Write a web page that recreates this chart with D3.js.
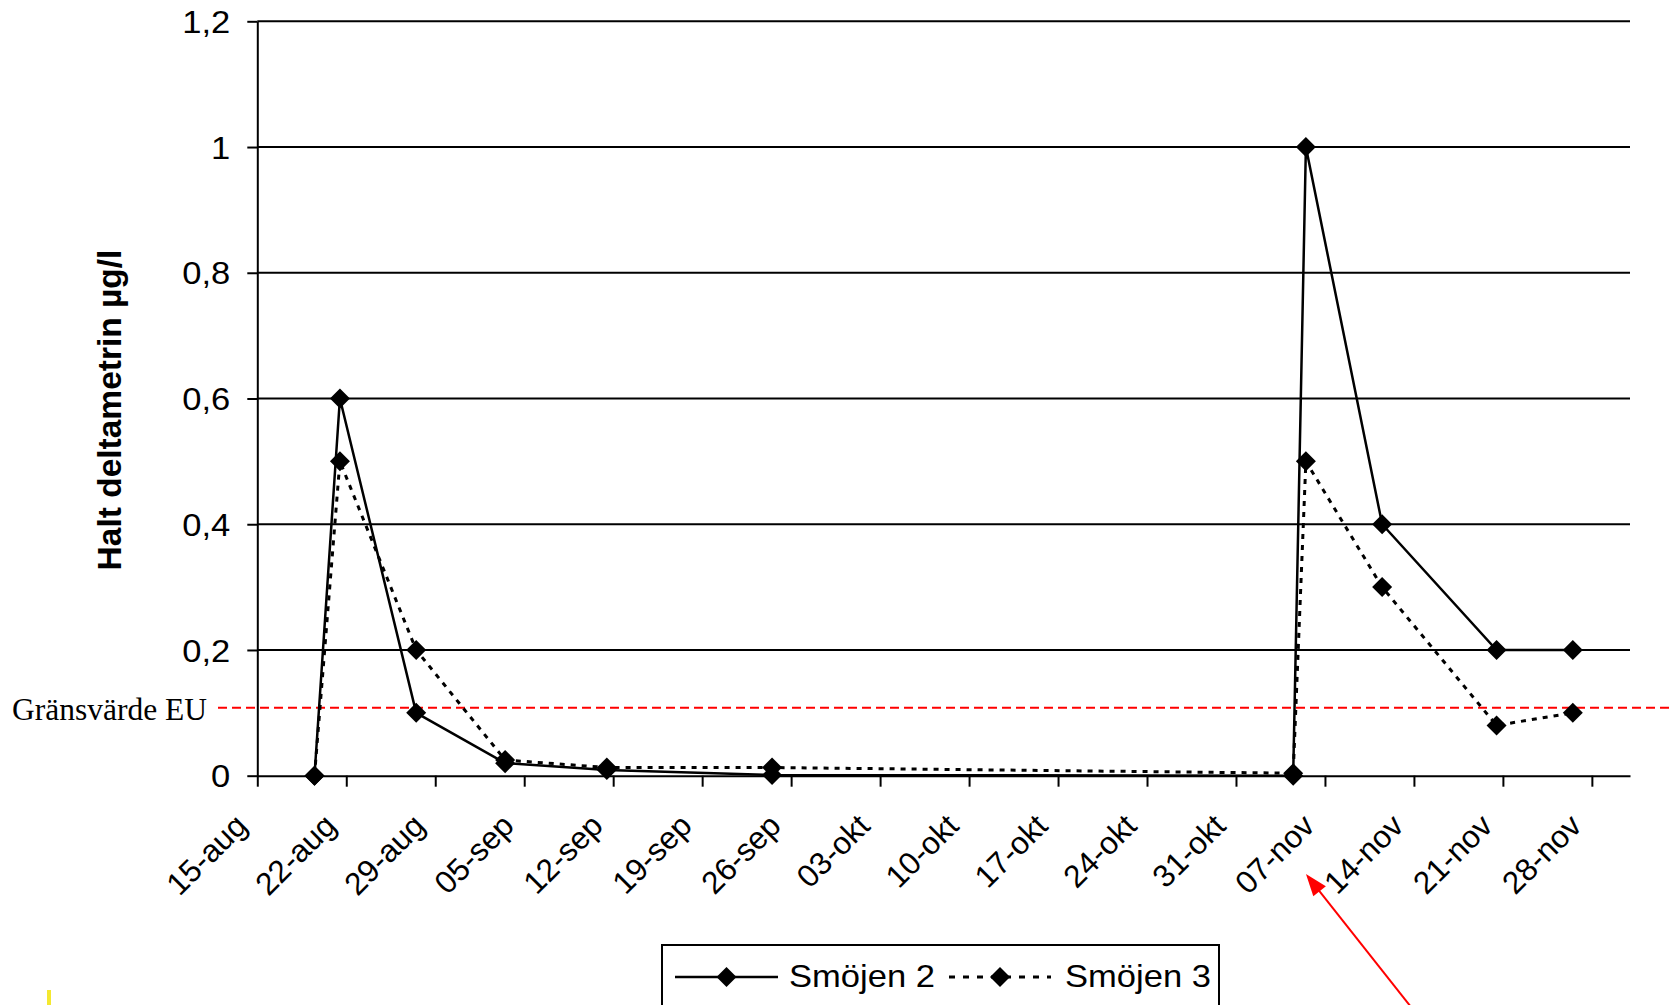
<!DOCTYPE html>
<html><head><meta charset="utf-8">
<script src="https://cdn.jsdelivr.net/npm/d3@7"></script>
<style>body{margin:0;background:#fff}svg{display:block}</style>
</head><body>
<svg id="c" width="1673" height="1005"></svg>
<script>
// ---- data ----
const sampleDates = ["2007-08-19","2007-08-21","2007-08-27","2007-09-03","2007-09-11","2007-09-24","2007-11-04","2007-11-05","2007-11-11","2007-11-20","2007-11-26"];
const smojen2 = [0, 0.6, 0.1, 0.02, 0.009, 0.001, 0, 1.0, 0.4, 0.2, 0.2];
const smojen3 = [0, 0.5, 0.2, 0.025, 0.013, 0.013, 0.004, 0.5, 0.3, 0.08, 0.1];
const seriesNames = ["Smöjen 2", "Smöjen 3"];
const yTickValues = [0, 0.2, 0.4, 0.6, 0.8, 1, 1.2];
const xTickLabels = ["15-aug","22-aug","29-aug","05-sep","12-sep","19-sep","26-sep","03-okt","10-okt","17-okt","24-okt","31-okt","07-nov","14-nov","21-nov","28-nov"];
const xDomain = ["2007-08-15", "2007-12-01"];
const euLimit = 0.108;
const euLabel = "Gränsvärde EU";
const arrowTarget = "2007-11-07";
const yTitle = "Halt deltametrin µg/l";

// ---- layout ----
const svg = d3.select("#c");
const parse = d3.utcParse("%Y-%m-%d");
const L = 257.3, R = 1630, T = 21.3, B = 775.7;
const x = d3.scaleUtc().domain(xDomain.map(parse)).range([L, R]);
const y = d3.scaleLinear().domain([0, 1.2]).range([B, T]);
const sans = "'Liberation Sans', Arial, sans-serif";
const fs = 32;
const stretch = 1.08;

// gridlines
svg.append("g").selectAll("line").data(yTickValues.filter(v => v > 0)).join("line")
  .attr("x1", L).attr("x2", R).attr("y1", d => y(d)).attr("y2", d => y(d))
  .attr("stroke", "#000").attr("stroke-width", 2);

// y axis
const yAxis = d3.axisLeft(y).tickValues(yTickValues).tickSize(10).tickSizeOuter(0)
  .tickFormat(d => String(d).replace(".", ","));
const gy = svg.append("g").attr("transform", `translate(${L},0)`).call(yAxis);
gy.select(".domain").attr("stroke", "#000").attr("stroke-width", 2);
gy.selectAll(".tick line").attr("stroke", "#000").attr("stroke-width", 2);
gy.selectAll(".tick text").attr("font-family", sans).attr("font-size", fs).attr("fill", "#000")
  .attr("x", 0).attr("dy", "0.35em").attr("transform", `translate(-27,0) scale(${stretch},1)`);

// x axis
const xTickDates = xTickLabels.map((_, i) => d3.utcDay.offset(parse(xDomain[0]), 7 * i));
const xAxis = d3.axisBottom(x).tickValues(xTickDates).tickSize(11).tickSizeOuter(0)
  .tickFormat((d, i) => xTickLabels[i]);
const gx = svg.append("g").attr("transform", `translate(0,${B})`).call(xAxis);
gx.select(".domain").attr("stroke", "#000").attr("stroke-width", 2);
gx.selectAll(".tick line").attr("stroke", "#000").attr("stroke-width", 2);
gx.selectAll(".tick text").attr("font-family", sans).attr("font-size", 31.5).attr("fill", "#000")
  .attr("text-anchor", "end").attr("y", 0).attr("dy", 0)
  .attr("transform", "translate(-9,52) rotate(-45)");

// EU limit line
svg.append("line").attr("x1", 218).attr("x2", 1673).attr("y1", y(euLimit)).attr("y2", y(euLimit))
  .attr("stroke", "#ff0000").attr("stroke-width", 2).attr("stroke-dasharray", "9,5");
svg.append("text").text(euLabel).attr("x", 12).attr("y", y(euLimit) + 12)
  .attr("font-family", "'Liberation Serif', 'Times New Roman', serif").attr("font-size", 31.5).attr("fill", "#000");

// y title
svg.append("text").text(yTitle)
  .attr("transform", `translate(121,410) rotate(-90)`).attr("text-anchor", "middle")
  .attr("font-family", sans).attr("font-weight", "bold").attr("font-size", 33.5).attr("fill", "#000");

// series
const px = d => x(d3.utcHour.offset(parse(d), 12));
const diamond = { draw(ctx, size) { const r = Math.sqrt(size / 2); ctx.moveTo(0, -r); ctx.lineTo(r, 0); ctx.lineTo(0, r); ctx.lineTo(-r, 0); ctx.closePath(); } };
const sym = d3.symbol().type(diamond).size(200);
const line = d3.line();
const series = [
  { name: seriesNames[0], vals: smojen2, dash: null, w: 2.5 },
  { name: seriesNames[1], vals: smojen3, dash: "5,6", w: 3 }
];
series.forEach(s => {
  const pts = sampleDates.map((d, i) => [px(d), y(s.vals[i])]);
  svg.append("path").attr("d", line(pts)).attr("fill", "none").attr("stroke", "#000")
    .attr("stroke-width", s.w).attr("stroke-dasharray", s.dash);
});
series.forEach(s => {
  svg.append("g").selectAll("path").data(sampleDates).join("path")
    .attr("d", sym).attr("fill", "#000")
    .attr("transform", (d, i) => `translate(${px(d)},${y(s.vals[i])})`);
});

// legend
const lg = svg.append("g");
lg.append("rect").attr("x", 662).attr("y", 945).attr("width", 557).attr("height", 90)
  .attr("fill", "#fff").attr("stroke", "#000").attr("stroke-width", 2);
const legItems = [{ x0: 675, x1: 778, tx: 789, dash: null, w: 2.5 }, { x0: 949, x1: 1051, tx: 1065, dash: "6,8", w: 3 }];
legItems.forEach((it, i) => {
  lg.append("line").attr("x1", it.x0).attr("x2", it.x1).attr("y1", 977).attr("y2", 977)
    .attr("stroke", "#000").attr("stroke-width", it.w).attr("stroke-dasharray", it.dash);
  lg.append("path").attr("d", sym).attr("fill", "#000").attr("transform", `translate(${(it.x0 + it.x1) / 2},977)`);
  lg.append("text").text(seriesNames[i]).attr("x", 0).attr("y", 0)
    .attr("transform", `translate(${it.tx},987) scale(${stretch},1)`)
    .attr("font-family", sans).attr("font-size", fs).attr("fill", "#000");
});

// red arrow annotation pointing at the 07-nov label
const tipX = x(parse(arrowTarget)) - 19, tipY = 874;
const ux = 0.62, uy = 0.785; // direction from tip to tail
svg.append("line").attr("x1", tipX + ux * 15).attr("y1", tipY + uy * 15)
  .attr("x2", tipX + ux * 220).attr("y2", tipY + uy * 220)
  .attr("stroke", "#ff0000").attr("stroke-width", 2);
const hl = 22, hw = 8;
svg.append("path").attr("fill", "#ff0000").attr("d",
  `M${tipX},${tipY} L${tipX + ux * hl - uy * hw},${tipY + uy * hl + ux * hw} L${tipX + ux * hl + uy * hw},${tipY + uy * hl - ux * hw} Z`);

// small yellow fragment at bottom-left
svg.append("rect").attr("x", 47).attr("y", 990).attr("width", 4).attr("height", 15).attr("fill", "#f4e830");
</script>
</body></html>
